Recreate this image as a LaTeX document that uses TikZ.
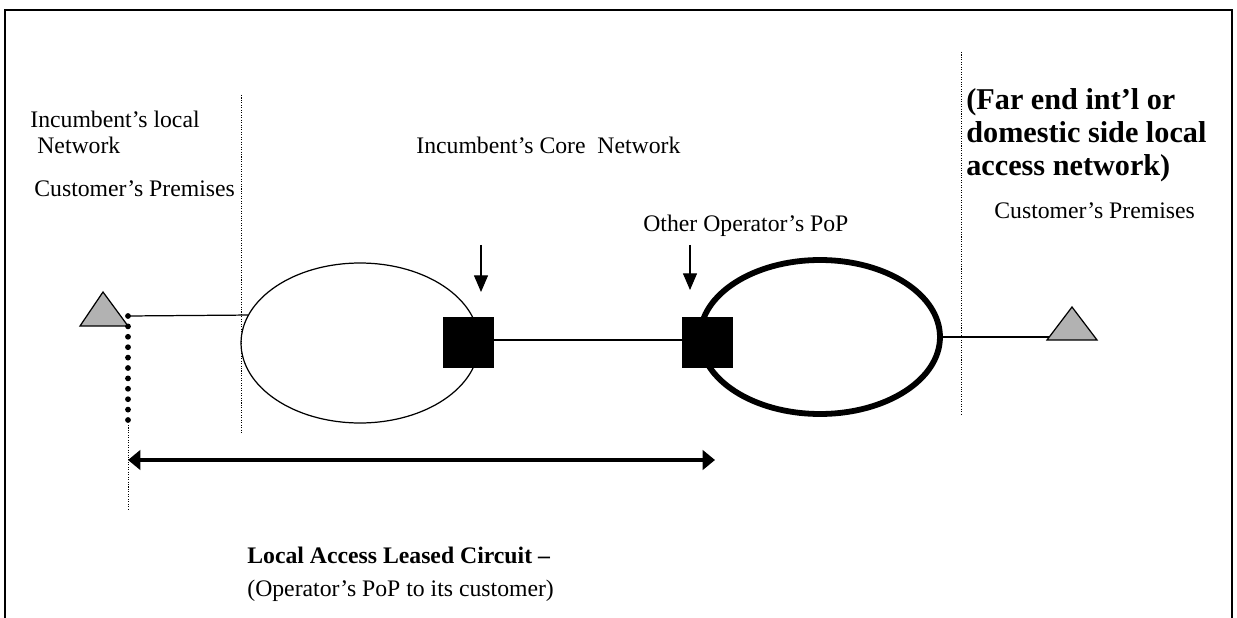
\documentclass[tikz,border=0pt]{standalone}
\usepackage{fontspec}
\setmainfont{Liberation Serif}
\usetikzlibrary{shapes.geometric,arrows.meta}

\tikzset{
  txt/.style={anchor=base west, inner sep=0pt, font=\fontsize{13.5}{15}\selectfont},
  bigtxt/.style={anchor=base west, inner sep=0pt, align=left, font=\fontsize{17.2}{18.8}\bfseries\selectfont},
  netring/.style={draw, ellipse, inner sep=0pt},
  popbox/.style={draw, fill=black, minimum size=1cm, inner sep=0pt},
  border/.style={dash pattern=on 0.6pt off 0.8pt, line width=0.5pt},
  cpe/.style={draw, line width=0.7pt, fill=black!30},
  pointer/.style={-{Triangle[length=9.5pt,width=8pt]}, line width=0.6pt},
}

\begin{document}
\begin{tikzpicture}[x=0.02cm, y=-0.02cm]
            \useasboundingbox (0,0) rectangle (1237,618);
            % frame, open at the bottom
            \draw[line width=1.1pt] (5,618) -- (5,10) -- (1232,10) -- (1232,618);

            % boundaries between the networks
            \draw[border] (241,95) -- (241,432);
            \draw[border] (961,52) -- (961,415);

            % the two networks and the points of presence
            \node[netring, line width=0.7pt, minimum width=4.76cm, minimum height=3.2cm] (core) at (360,343) {};
            \node[netring, line width=3.3pt, minimum width=4.8cm, minimum height=3.08cm] (pop) at (820,337) {};
            \node[popbox] (sqcore) at (468,342) {};
            \node[popbox] (sqpop) at (707,342) {};

            % customer premises equipment
            \coordinate (custL) at (128,316);
            \coordinate (custR) at (1049,337);
            \draw[cpe] (80,326) -- (128,326) -- (103,292) -- cycle;
            \draw[cpe] (1047,340) -- (1097,340) -- (1072,307) -- cycle;

            % links
            \draw[line width=0.7pt] (custL) -- (core.166);
            \draw[line width=0.7pt] (sqcore.east |- 0,340) -- (sqpop.west |- 0,340);
            \draw[line width=0.7pt] (pop.east) -- (custR);

            % pointers to the PoPs
            \coordinate (ptrA) at (481,245);
            \coordinate (ptrAend) at (481,292);
            \coordinate (ptrB) at (690,245);
            \coordinate (ptrBend) at (690,290);
            \draw[pointer] (ptrA) -- (ptrAend);
            \draw[pointer] (ptrB) -- (ptrBend);

            % demarcation at the customer
            \foreach \dy in {0,...,10}
                \fill (128,316+\dy*10.4) circle (2.9);
            \coordinate (demarcTop) at (128,425);
            \coordinate (demarcEnd) at (128,510);
            \draw[border] (demarcTop) -- (demarcEnd);

            % extent of the leased circuit
            \coordinate (circL) at (128,460);
            \coordinate (circR) at (715,460);
            \draw[{Triangle[length=7pt,width=11pt]}-{Triangle[length=7pt,width=11pt]}, line width=2.3pt] (circL) -- (circR);

            % labels
            \node[txt] (lblLocal) at (30,128) {Incumbent’s local};
            \node[txt] (lblLocalB) at (37,154) {Network};
            \node[txt] (lblCustL) at (34,197) {Customer’s Premises};
            \node[txt] (lblCore) at (416,154) {Incumbent’s Core\ \ Network};
            \node[txt] (lblPop) at (643,232) {Other Operator’s PoP};
            \node[txt] (lblCustR) at (994,218) {Customer’s Premises};
            \node[bigtxt] (lblFar) at (966,176) {(Far end int’l or\\domestic side local\\access network)};
            \node[txt, font=\fontsize{13.5}{15}\bfseries\selectfont] (lblCirc) at (247,563) {Local Access Leased Circuit –};
            \node[txt] (lblCircB) at (247,596) {(Operator’s PoP to its customer)};
\end{tikzpicture}
\end{document}
